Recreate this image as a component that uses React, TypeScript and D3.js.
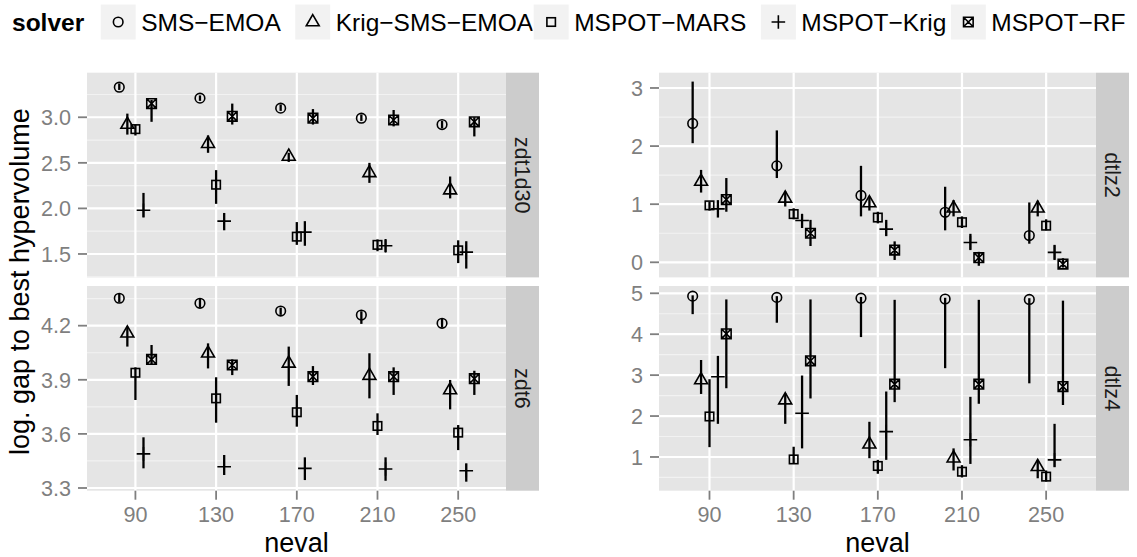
import React from "react";
import * as d3 from "d3";

// ---------- data ----------
const nevals = [90, 130, 170, 210, 250];
const solvers = ["SMS−EMOA", "Krig−SMS−EMOA", "MSPOT−MARS", "MSPOT−Krig", "MSPOT−RF"];
const dodgeOffsets = [-8, -4, 0, 4, 8];

// zdt1d30  (rows = solvers, cols = nevals)
const zdt1d30Mean = [
  [3.33, 3.21, 3.10, 2.99, 2.92],
  [2.92, 2.71, 2.57, 2.39, 2.20],
  [2.87, 2.26, 1.69, 1.60, 1.54],
  [1.98, 1.86, 1.74, 1.59, 1.52],
  [3.15, 3.01, 2.99, 2.97, 2.95],
];
const zdt1d30Lo = [
  [3.30, 3.18, 3.07, 2.96, 2.88],
  [2.81, 2.61, 2.51, 2.28, 2.11],
  [2.80, 2.05, 1.60, 1.53, 1.40],
  [1.90, 1.76, 1.59, 1.52, 1.34],
  [2.95, 2.92, 2.92, 2.90, 2.79],
];
const zdt1d30Hi = [
  [3.37, 3.24, 3.14, 3.03, 2.96],
  [3.04, 2.80, 2.61, 2.50, 2.35],
  [2.92, 2.42, 1.85, 1.66, 1.65],
  [2.17, 1.95, 1.86, 1.66, 1.64],
  [3.19, 3.15, 3.09, 3.08, 3.00],
];

// zdt6
const zdt6Mean = [
  [4.352, 4.324, 4.281, 4.259, 4.213],
  [4.158, 4.047, 3.991, 3.923, 3.843],
  [3.939, 3.797, 3.72, 3.644, 3.607],
  [3.489, 3.418, 3.409, 3.405, 3.396],
  [4.013, 3.982, 3.917, 3.917, 3.906],
];
const zdt6Lo = [
  [4.33, 4.30, 4.26, 4.21, 4.19],
  [4.084, 3.963, 3.866, 3.797, 3.736],
  [3.788, 3.662, 3.64, 3.594, 3.51],
  [3.409, 3.372, 3.344, 3.34, 3.335],
  [3.982, 3.926, 3.871, 3.816, 3.816],
];
const zdt6Hi = [
  [4.38, 4.35, 4.30, 4.28, 4.24],
  [4.194, 4.102, 4.084, 4.047, 3.899],
  [3.969, 3.914, 3.816, 3.714, 3.649],
  [3.581, 3.483, 3.47, 3.47, 3.437],
  [4.093, 4.013, 3.976, 3.969, 3.95],
];

// dtlz2
const dtlz2Mean = [
  [2.39, 1.66, 1.15, 0.86, 0.46],
  [1.39, 1.10, 1.02, 0.93, 0.93],
  [0.98, 0.83, 0.77, 0.69, 0.63],
  [0.92, 0.72, 0.57, 0.34, 0.17],
  [1.08, 0.50, 0.21, 0.08, -0.03],
];
const dtlz2Lo = [
  [2.05, 1.45, 0.79, 0.55, 0.32],
  [1.20, 0.96, 0.89, 0.79, 0.79],
  [0.89, 0.74, 0.67, 0.59, 0.55],
  [0.77, 0.59, 0.45, 0.21, 0.04],
  [0.87, 0.28, 0.04, -0.06, -0.09],
];
const dtlz2Hi = [
  [3.11, 2.27, 1.66, 1.30, 1.03],
  [1.59, 1.22, 1.13, 1.07, 1.06],
  [1.04, 0.93, 0.87, 0.79, 0.74],
  [1.07, 0.83, 0.73, 0.49, 0.30],
  [1.45, 0.73, 0.36, 0.18, 0.07],
];

// dtlz4
const dtlz4Mean = [
  [4.93, 4.90, 4.88, 4.86, 4.85],
  [2.88, 2.39, 1.31, 0.97, 0.76],
  [1.99, 0.94, 0.78, 0.64, 0.52],
  [2.96, 2.07, 1.62, 1.42, 0.93],
  [4.01, 3.35, 2.78, 2.78, 2.72],
];
const dtlz4Lo = [
  [4.49, 4.28, 3.93, 3.17, 2.80],
  [2.54, 1.81, 0.97, 0.67, 0.48],
  [1.24, 0.83, 0.59, 0.50, 0.40],
  [1.81, 1.21, 0.93, 0.83, 0.75],
  [2.68, 2.43, 2.34, 2.30, 2.27],
];
const dtlz4Hi = [
  [4.95, 4.93, 4.91, 4.89, 4.88],
  [3.37, 2.56, 1.86, 1.21, 0.93],
  [2.90, 1.25, 0.93, 0.80, 0.67],
  [3.47, 2.99, 2.60, 2.47, 1.81],
  [4.85, 4.85, 4.84, 4.84, 4.82],
];

// tick labels
const zdt1d30Ticks = ["1.5", "2.0", "2.5", "3.0"];
const zdt6Ticks = ["3.3", "3.6", "3.9", "4.2"];
const dtlz2Ticks = ["0", "1", "2", "3"];
const dtlz4Ticks = ["1", "2", "3", "4", "5"];
const xTickLabels = ["90", "130", "170", "210", "250"];

// y domains (ggplot expanded ranges)
const zdt1d30Domain = [1.243, 3.489];
const zdt6Domain = [3.285, 4.42];
const dtlz2Domain = [-0.26, 3.263];
const dtlz4Domain = [0.176, 5.178];
const xDomain = [66, 273.7];

// ---------- layout ----------
const W = 1137;
const H = 557;
const rows = [
  [72.7, 277.4],
  [286, 490.7],
];
const cols = [
  { panel: [87, 506], strip: [506, 539] },
  { panel: [659, 1096], strip: [1096, 1129] },
];

const panels = [
  { name: "zdt1d30", mean: zdt1d30Mean, lo: zdt1d30Lo, hi: zdt1d30Hi, ticks: zdt1d30Ticks, domain: zdt1d30Domain, col: 0, row: 0 },
  { name: "zdt6", mean: zdt6Mean, lo: zdt6Lo, hi: zdt6Hi, ticks: zdt6Ticks, domain: zdt6Domain, col: 0, row: 1 },
  { name: "dtlz2", mean: dtlz2Mean, lo: dtlz2Lo, hi: dtlz2Hi, ticks: dtlz2Ticks, domain: dtlz2Domain, col: 1, row: 0 },
  { name: "dtlz4", mean: dtlz4Mean, lo: dtlz4Lo, hi: dtlz4Hi, ticks: dtlz4Ticks, domain: dtlz4Domain, col: 1, row: 1 },
];

const FONT = "'Liberation Sans', Arial, Helvetica, sans-serif";
const SW = 1.6;

function Shape({ k, cx, cy }: { k: number; cx: number; cy: number }) {
  const common = { fill: "none", stroke: "#000", strokeWidth: SW };
  if (k === 0) return <circle cx={cx} cy={cy} r={4.8} {...common} />;
  if (k === 1) {
    const r = 7.46, xc = 6.46, yc = 3.73;
    return <path d={`M${cx},${cy - r}L${cx + xc},${cy + yc}L${cx - xc},${cy + yc}Z`} {...common} />;
  }
  if (k === 2) {
    const h = 4.25;
    return <rect x={cx - h} y={cy - h} width={2 * h} height={2 * h} {...common} />;
  }
  if (k === 3) {
    const a = 6.8;
    return <path d={`M${cx - a},${cy}H${cx + a}M${cx},${cy - a}V${cy + a}`} {...common} />;
  }
  const h = 4.8;
  return (
    <path
      d={`M${cx - h},${cy - h}H${cx + h}V${cy + h}H${cx - h}ZM${cx - h},${cy - h}L${cx + h},${cy + h}M${cx + h},${cy - h}L${cx - h},${cy + h}`}
      {...common}
    />
  );
}

// Arial-like advance widths (em)
const CW: Record<string, number> = {
  S: 0.667, M: 0.833, "−": 0.584, E: 0.667, O: 0.778, A: 0.667, K: 0.667, r: 0.333, i: 0.222, g: 0.556,
  P: 0.667, T: 0.611, R: 0.722, F: 0.611,
};
const textW = (s: string, f: number) => s.split("").reduce((a, c) => a + (CW[c] ?? 0.556), 0) * f;

const legendGaps = [14, 0, 14, 4];

function Legend() {
  const F = 24.5;
  const K = 36;
  const pad = 5;
  const titleGap = 16;
  const titleW = 2.946 * F;
  const widths = solvers.map((s) => textW(s, F));
  let x = 12;
  const cy = 22;
  const items: JSX.Element[] = [];
  items.push(
    <text key="t" x={x} y={cy + 0.36 * F} fontSize={F} fontWeight="bold" fontFamily={FONT} fill="#000">
      solver
    </text>
  );
  x += titleW + titleGap;
  solvers.forEach((s, i) => {
    items.push(
      <g key={s}>
        <rect x={x} y={cy - K / 2} width={K} height={K} fill="#F2F2F2" stroke="#fff" strokeWidth={1} />
        <Shape k={i} cx={x + K / 2} cy={cy} />
        <text x={x + K + pad} y={cy + 0.36 * F} fontSize={F} fontFamily={FONT} fill="#000">
          {s}
        </text>
      </g>
    );
    x += K + pad + widths[i] + (legendGaps[i] ?? 0);
  });
  return <g>{items}</g>;
}

function Panel({ p }: { p: (typeof panels)[number] }) {
  const c = cols[p.col];
  const [y0, y1] = rows[p.row];
  const x = d3.scaleLinear().domain(xDomain).range(c.panel);
  const y = d3.scaleLinear().domain(p.domain).range([y1, y0]);
  const tv = p.ticks.map(Number);
  const step = tv[1] - tv[0];
  const minors = [tv[0] - step / 2, ...tv.map((t) => t + step / 2)].filter(
    (m) => m > p.domain[0] && m < p.domain[1]
  );
  const pw = c.panel[1] - c.panel[0];
  const isBottom = p.row === 1;
  return (
    <g>
      <rect x={c.panel[0]} y={y0} width={pw} height={y1 - y0} fill="#E5E5E5" />
      {minors.map((m) => (
        <line key={"m" + m} x1={c.panel[0]} x2={c.panel[1]} y1={y(m)} y2={y(m)} stroke="#F2F2F2" strokeWidth={1.2} />
      ))}
      {tv.map((t) => (
        <line key={"g" + t} x1={c.panel[0]} x2={c.panel[1]} y1={y(t)} y2={y(t)} stroke="#fff" strokeWidth={2.2} />
      ))}
      {nevals.map((n) => (
        <line key={"v" + n} x1={x(n)} x2={x(n)} y1={y0} y2={y1} stroke="#fff" strokeWidth={2.2} />
      ))}
      {p.mean.map((row, si) =>
        row.map((_, ni) => (
          <line
            key={`e${si}-${ni}`}
            x1={x(nevals[ni] + dodgeOffsets[si])}
            x2={x(nevals[ni] + dodgeOffsets[si])}
            y1={y(p.lo[si][ni])}
            y2={y(p.hi[si][ni])}
            stroke="#000"
            strokeWidth={2.3}
          />
        ))
      )}
      {p.mean.map((row, si) =>
        row.map((v, ni) => <Shape key={`p${si}-${ni}`} k={si} cx={x(nevals[ni] + dodgeOffsets[si])} cy={y(v)} />)
      )}
      <rect x={c.strip[0]} y={y0} width={c.strip[1] - c.strip[0]} height={y1 - y0} fill="#CCCCCC" />
      <text
        transform={`translate(${(c.strip[0] + c.strip[1]) / 2},${(y0 + y1) / 2}) rotate(90)`}
        textAnchor="middle"
        dy="0.35em"
        fontSize={21.6}
        fontFamily={FONT}
        fill="#1A1A1A"
      >
        {p.name}
      </text>
      {tv.map((t, i) => (
        <g key={"yt" + t}>
          <line x1={c.panel[0] - 9} x2={c.panel[0]} y1={y(t)} y2={y(t)} stroke="#7F7F7F" strokeWidth={1.8} />
          <text
            x={c.panel[0] - 16}
            y={y(t)}
            dy="0.36em"
            textAnchor="end"
            fontSize={21.6}
            fontFamily={FONT}
            fill="#7F7F7F"
          >
            {p.ticks[i]}
          </text>
        </g>
      ))}
      {isBottom &&
        nevals.map((n, i) => (
          <g key={"xt" + n}>
            <line x1={x(n)} x2={x(n)} y1={y1} y2={y1 + 9} stroke="#7F7F7F" strokeWidth={1.8} />
            <text x={x(n)} y={522} textAnchor="middle" fontSize={21.6} fontFamily={FONT} fill="#7F7F7F">
              {xTickLabels[i]}
            </text>
          </g>
        ))}
      {isBottom && (
        <text x={(c.panel[0] + c.panel[1]) / 2} y={551.5} textAnchor="middle" fontSize={27} fontFamily={FONT} fill="#000">
          neval
        </text>
      )}
    </g>
  );
}

export default function App() {
  return (
    <svg
      width={W}
      height={H}
      viewBox={`0 0 ${W} ${H}`}
      style={{ position: "absolute", left: 0, top: 0, background: "#fff" }}
    >
      <rect width={W} height={H} fill="#fff" />
      <Legend />
      {panels.map((p) => (
        <Panel key={p.name} p={p} />
      ))}
      <text
        transform={`translate(29,${(rows[0][0] + rows[1][1]) / 2}) rotate(-90)`}
        textAnchor="middle"
        fontSize={27}
        fontFamily={FONT}
        fill="#000"
      >
        log. gap to best hypervolume
      </text>
    </svg>
  );
}
